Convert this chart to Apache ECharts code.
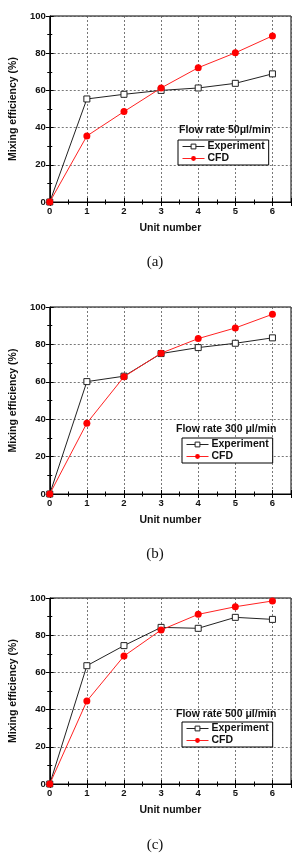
<!DOCTYPE html>
<html><head><meta charset="utf-8">
<script src="https://cdn.jsdelivr.net/npm/echarts@6/dist/echarts.min.js"></script>
<style>html,body{margin:0;padding:0;background:#fff}#c{width:294px;height:859px}</style>
</head><body><div id="c"></div>
<script>
const unitNumbers = [0, 1, 2, 3, 4, 5, 6];
const xTickLabels = ['0', '1', '2', '3', '4', '5', '6'];
const yTickLabels = ['0', '20', '40', '60', '80', '100'];
const expA = [0, 55.4, 57.9, 60.0, 61.3, 63.8, 68.9];
const cfdA = [0, 35.5, 48.6, 61.3, 72.2, 80.2, 89.3];
const expB = [0, 60.1, 63.0, 75.1, 78.3, 80.6, 83.5];
const cfdB = [0, 37.9, 62.7, 75.3, 83.1, 88.8, 96.1];
const expC = [0, 63.6, 74.4, 84.2, 83.7, 89.6, 88.5];
const cfdC = [0, 44.6, 68.8, 82.8, 91.2, 95.3, 98.4];
const flowLabels = ['Flow rate 50\u03bcl/min', 'Flow rate 300 \u03bcl/min', 'Flow rate 500 \u03bcl/min'];
const panelLabels = ['(a)', '(b)', '(c)'];
const seriesNames = ['Experiment', 'CFD'];
const xTitle = 'Unit number';
const yTitle = 'Mixing efficiency (%)';

const FONT = 'Liberation Sans';
const grids = [
  {left: 38, top: 16, width: 253, height: 186},
  {left: 38, top: 307, width: 253, height: 187},
  {left: 39, top: 598, width: 252, height: 186}
];
const flowPos = [[179, 132], [176, 431], [176, 716]];
const legendPos = [[178, 140], [182, 438], [182, 722]];
const panelPos = [[155, 262], [155, 554], [155, 845]];
const expSets = [expA, expB, expC];
const cfdSets = [cfdA, cfdB, cfdC];

const option = {
  animation: false,
  backgroundColor: '#fff',
  grid: grids.map(g => Object.assign({show: true, borderColor: '#000', borderWidth: 1, backgroundColor: 'transparent'}, g)),
  xAxis: [], yAxis: [], series: [], legend: [], graphic: []
};

grids.forEach((g, k) => {
  option.xAxis.push({
    type: 'value', gridIndex: k, min: 0, max: 6.5, interval: 1,
    name: xTitle, nameLocation: 'middle', nameGap: 21,
    nameTextStyle: {fontFamily: FONT, fontWeight: 'bold', fontSize: 10.5, color: '#111'},
    axisLine: {show: true, lineStyle: {color: '#000', width: 1}},
    axisTick: {show: true, inside: true, length: 4, lineStyle: {color: '#000'}},
    minorTick: {show: true, splitNumber: 2, length: 2.5, lineStyle: {color: '#000'}},
    axisLabel: {margin: 4, fontFamily: FONT, fontWeight: 'bold', fontSize: 9.5, color: '#111',
      formatter: v => (v > 6 ? '' : xTickLabels[Math.round(v)])},
    splitLine: {show: true, lineStyle: {color: '#555', width: 0.8, type: [2, 2]}}
  });
  option.xAxis.push({
    type: 'value', gridIndex: k, position: 'top', min: 0, max: 6.5, interval: 1,
    axisLine: {show: false}, axisLabel: {show: false}, splitLine: {show: false},
    axisTick: {show: true, inside: true, length: 4, lineStyle: {color: '#000'}},
    minorTick: {show: true, splitNumber: 2, length: 2.5, lineStyle: {color: '#000'}}
  });
  option.yAxis.push({
    type: 'value', gridIndex: k, min: 0, max: 100, interval: 20,
    name: yTitle, nameLocation: 'middle', nameGap: 24,
    nameTextStyle: {fontFamily: FONT, fontWeight: 'bold', fontSize: 10.5, color: '#111'},
    axisLine: {show: true, lineStyle: {color: '#000', width: 1}},
    axisTick: {show: true, inside: true, length: 4, lineStyle: {color: '#000'}},
    minorTick: {show: true, splitNumber: 2, length: 2.5, lineStyle: {color: '#000'}},
    axisLabel: {margin: 4, fontFamily: FONT, fontWeight: 'bold', fontSize: 9.5, color: '#111',
      formatter: v => yTickLabels[Math.round(v / 20)]},
    splitLine: {show: true, lineStyle: {color: '#555', width: 0.8, type: [2, 2]}}
  });
  option.yAxis.push({
    type: 'value', gridIndex: k, position: 'right', min: 0, max: 100, interval: 20,
    axisLine: {show: false}, axisLabel: {show: false}, splitLine: {show: false},
    axisTick: {show: true, inside: true, length: 4, lineStyle: {color: '#000'}},
    minorTick: {show: true, splitNumber: 2, length: 2.5, lineStyle: {color: '#000'}}
  });
  option.series.push({
    name: seriesNames[0], type: 'line', xAxisIndex: 2 * k, yAxisIndex: 2 * k,
    data: unitNumbers.map((x, i) => [x, expSets[k][i]]),
    symbol: 'rect', symbolSize: 6, z: 3,
    lineStyle: {color: '#222', width: 1},
    itemStyle: {color: '#fff', borderColor: '#222', borderWidth: 1}
  });
  option.series.push({
    name: seriesNames[1], type: 'line', xAxisIndex: 2 * k, yAxisIndex: 2 * k,
    data: unitNumbers.map((x, i) => [x, cfdSets[k][i]]),
    symbol: 'circle', symbolSize: 7, z: 4,
    lineStyle: {color: '#f22', width: 1},
    itemStyle: {color: '#f00'}
  });
  option.legend.push({
    data: seriesNames, orient: 'vertical', left: legendPos[k][0], top: legendPos[k][1],
    selectedMode: false, borderColor: '#000', borderWidth: 1, padding: [1, 4, 1, 4],
    itemGap: 1, itemWidth: 22, itemHeight: 6, backgroundColor: '#fff',
    lineStyle: {width: 1},
    itemStyle: {borderWidth: 1},
    textStyle: {fontFamily: FONT, fontWeight: 'bold', fontSize: 10.5, color: '#111', padding: [1, 0, 1, -2]}
  });
  option.graphic.push({
    type: 'text', left: flowPos[k][0], top: flowPos[k][1] - 7, z: 10,
    style: {text: flowLabels[k], font: 'bold 10.5px "' + FONT + '"', fill: '#111'}
  });
  option.graphic.push({
    type: 'text', x: panelPos[k][0], y: panelPos[k][1], z: 10,
    style: {text: panelLabels[k], font: '15px "Liberation Serif"', fill: '#111', align: 'center', verticalAlign: 'middle'}
  });
});

const chart = echarts.init(document.getElementById('c'), null, {renderer: 'canvas'});
chart.setOption(option);
</script>
</body></html>
